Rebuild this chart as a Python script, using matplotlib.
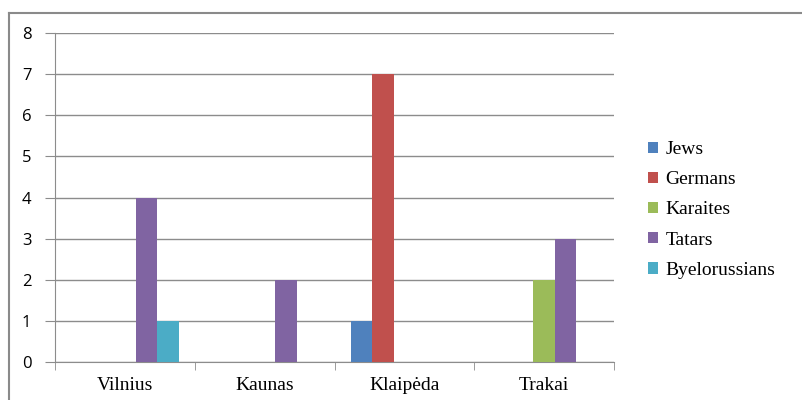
import matplotlib
matplotlib.use("Agg")
import matplotlib.pyplot as plt
import numpy as np
from matplotlib.lines import Line2D
from matplotlib.patches import Patch

cities = ["Vilnius", "Kaunas", "Klaipėda", "Trakai"]
groups = ["Jews", "Germans", "Karaites", "Tatars", "Byelorussians"]
colors = ["#4F81BD", "#C0504D", "#9BBB59", "#8064A2", "#4BACC6"]

jews = [0, 0, 1, 0]
germans = [0, 0, 7, 0]
karaites = [0, 0, 0, 2]
tatars = [4, 2, 0, 3]
byelorussians = [1, 0, 0, 0]
series = [jews, germans, karaites, tatars, byelorussians]

serif = ["Liberation Serif", "DejaVu Serif"]

fig = plt.figure(figsize=(8.02, 4.00), dpi=100)
ax = fig.add_axes([55 / 802, 38 / 400, 559 / 802, 329 / 400])

# excel-style clustered columns, gap width 150%
w = 1 / 6.5
x = np.arange(len(cities))
for i, vals in enumerate(series):
    ax.bar(x + (i - 2) * w, vals, width=w, color=colors[i], label=groups[i], zorder=3)

ax.set_xlim(-0.5, len(cities) - 0.5)
ax.set_ylim(0, 8)
ax.set_yticks(range(0, 9))
ax.yaxis.grid(True, color="#8c8c8c", linewidth=1.0, zorder=0)

for s in ["top", "right"]:
    ax.spines[s].set_visible(False)
ax.spines["left"].set_color("#8c8c8c")
ax.spines["bottom"].set_color("#8c8c8c")

ax.set_xticks(x)
ax.set_xticklabels(cities, family=serif, fontsize=14)
ax.tick_params(axis="x", length=0, pad=11)
ax.set_xticks(np.arange(-0.5, len(cities)), minor=True)
ax.tick_params(axis="x", which="minor", length=6, color="#8c8c8c", direction="out")
ax.tick_params(axis="y", length=7, color="#8c8c8c", pad=10, labelsize=12)
for lbl in ax.get_yticklabels():
    lbl.set_family("Open Sans")

handles = [Patch(facecolor=c, label=g) for c, g in zip(colors, groups)]
fig.legend(handles=handles, loc="upper left", bbox_to_anchor=(648 / 802, 1 - 141 / 400),
           frameon=False, prop={"family": serif, "size": 14},
           borderpad=0, borderaxespad=0,
           handlelength=0.5, handleheight=0.5, handletextpad=0.4, labelspacing=0.68)

# outer frame: top and left edges only
fig.add_artist(Line2D([9 / 802, 1], [1 - 13 / 400] * 2, color="#8a8a8a", linewidth=1.5))
fig.add_artist(Line2D([9 / 802] * 2, [0, 1 - 13 / 400], color="#8a8a8a", linewidth=1.5))

fig.savefig("out.png", dpi=100)
